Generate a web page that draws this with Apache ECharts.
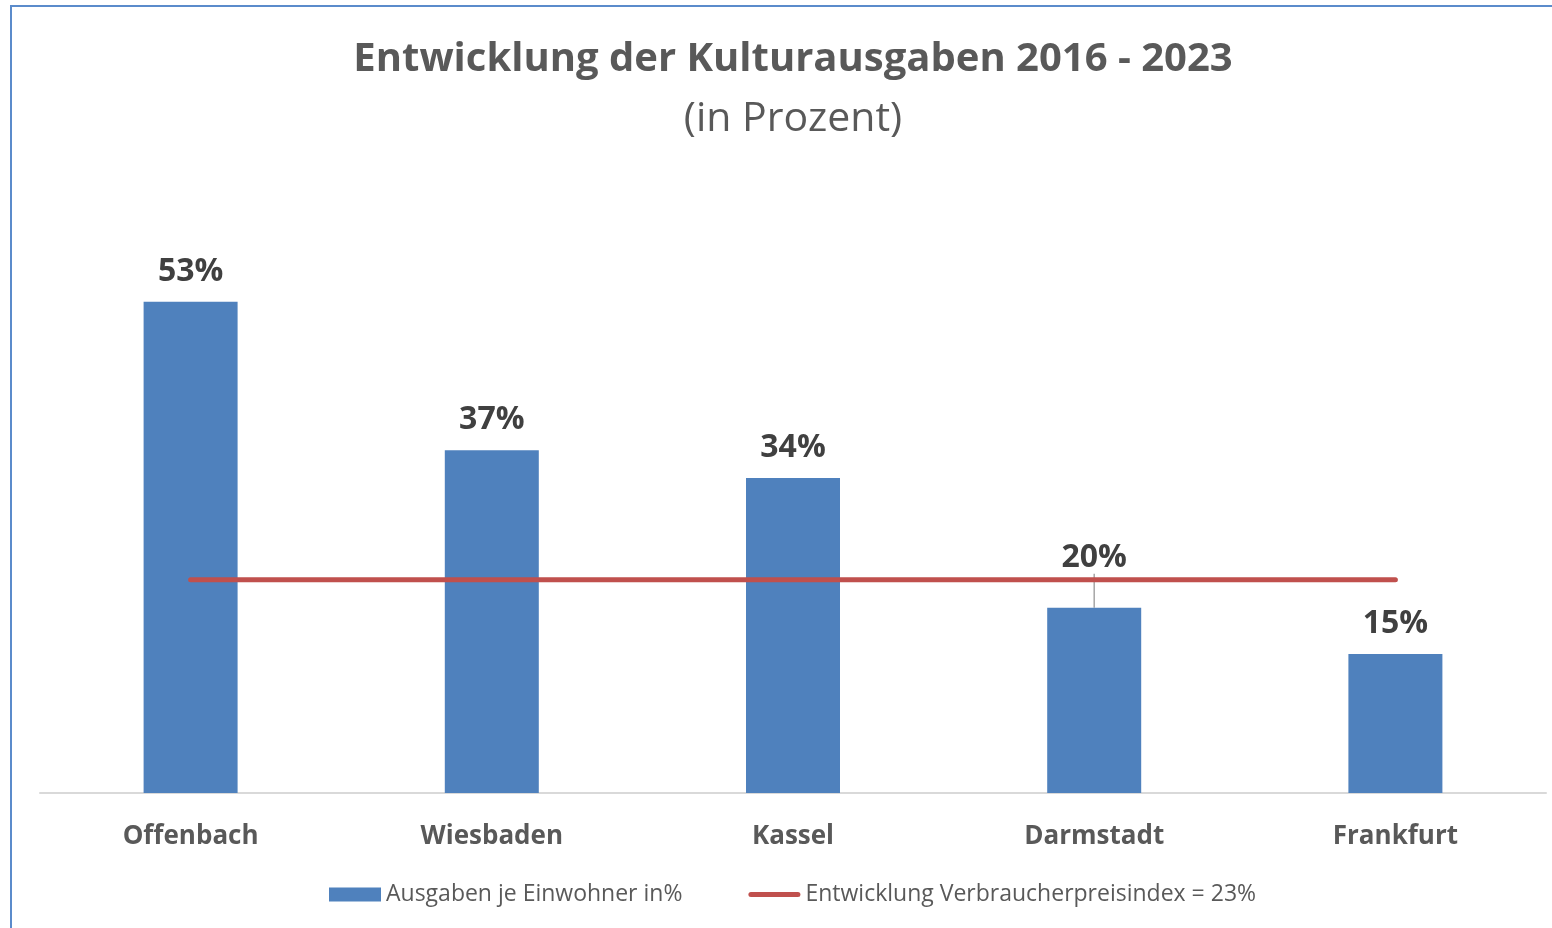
<!DOCTYPE html>
<html>
<head>
<meta charset="utf-8">
<script src="https://cdn.jsdelivr.net/npm/echarts@6/dist/echarts.min.js"></script>
<style>
  html, body { margin: 0; padding: 0; background: #fff; overflow: hidden; }
  #chart { width: 1552px; height: 928px; }
</style>
</head>
<body>
<div id="chart"></div>
<script>
const cities = ['Offenbach', 'Wiesbaden', 'Kassel', 'Darmstadt', 'Frankfurt']
const ausgaben = [53, 37, 34, 20, 15]
const vpi = [23, 23, 23, 23, 23]

// Darmstadt label sits above the red line, with a leader line
const barData = ausgaben.map(function (v, i) {
  if (i === 3) {
    return { value: v, labelLine: { show: true } }
  }
  return v
})

const chart = echarts.init(document.getElementById('chart'))
chart.setOption({
  animation: false,
  textStyle: { fontFamily: 'Open Sans' },
  title: {
    text: 'Entwicklung der Kulturausgaben 2016 - 2023',
    subtext: '(in Prozent)',
    left: 788,
    textAlign: 'center',
    top: 35,
    itemGap: 19,
    textStyle: { fontSize: 40, fontWeight: 'bold', color: '#595959' },
    subtextStyle: { fontSize: 41, color: '#595959' }
  },
  graphic: [{
    type: 'rect',
    shape: { x: 11, y: 6, width: 1600, height: 1000 },
    style: { fill: 'none', stroke: '#5B8BCB', lineWidth: 2 },
    silent: true
  }],
  legend: {
    bottom: 17,
    left: 324,
    itemWidth: 52,
    itemHeight: 14,
    itemGap: 66,
    textStyle: { fontSize: 23, color: '#595959' },
    data: [
      { name: 'Ausgaben je Einwohner in%', icon: 'rect' },
      { name: 'Entwicklung Verbraucherpreisindex = 23%', icon: 'path://M2.5,0H49.5A2.5,2.5 0 0 1 49.5,5H2.5A2.5,2.5 0 0 1 2.5,0Z' }
    ]
  },
  grid: { left: 40, right: 6, top: 237, bottom: 135 },
  xAxis: {
    type: 'category',
    data: cities,
    axisLine: { lineStyle: { color: '#D9D9D9', width: 2 } },
    axisTick: { show: false },
    axisLabel: { fontSize: 26, fontWeight: 'bold', color: '#595959', margin: 31 }
  },
  yAxis: {
    type: 'value',
    min: 0,
    max: 60,
    show: false
  },
  series: [
    {
      name: 'Ausgaben je Einwohner in%',
      type: 'bar',
      barWidth: 94,
      data: barData,
      itemStyle: { color: '#4F81BD' },
      label: {
        show: true,
        position: 'top',
        distance: 14,
        fontSize: 32,
        fontWeight: 'bold',
        color: '#404040',
        formatter: '{c}%'
      },
      labelLayout: function (params) {
        if (params.dataIndex === 3) return { dy: -20 }
        return {}
      },
      labelLine: { show: false, lineStyle: { color: '#A6A6A6', width: 1.5 } },
      z: 2
    },
    {
      name: 'Entwicklung Verbraucherpreisindex = 23%',
      type: 'line',
      data: vpi,
      showSymbol: false,
      symbol: 'none',
      itemStyle: { color: '#C0504D' },
      lineStyle: { color: '#C0504D', width: 5, cap: 'round' },
      z: 3
    }
  ]
})
</script>
</body>
</html>
